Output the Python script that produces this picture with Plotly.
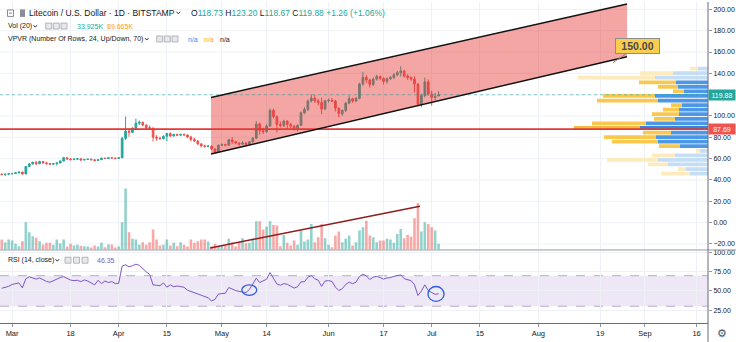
import plotly.graph_objects as go
import pandas as pd

# ---------------- data ----------------
dates = pd.date_range("2019-02-26", "2019-07-03", freq="D")

opens = [45.5, 45.0, 45.3,
         45.8, 46.0, 46.7, 47.4, 45.6, 52.6, 55.0, 56.5, 55.2, 57.3, 56.0, 55.4, 54.8, 55.3, 55.9, 57.8,
         60.8, 59.6, 59.1, 59.5, 59.9, 58.7, 59.2, 59.5, 58.9, 58.2, 59.0, 60.4, 60.1, 60.8, 60.5,
         60.2, 60.8, 79.0, 85.8, 84.6, 88.5, 93.2, 94.0, 91.5, 89.0, 88.6, 80.0, 79.2, 78.7, 81.0,
         83.5, 81.2, 82.6, 82.0, 82.7, 82.2, 80.3, 78.0, 76.6, 73.8, 72.0, 71.5, 71.8, 69.0, 66.3,
         72.6, 73.2, 72.6, 77.6, 76.0, 74.6, 73.6, 74.6, 73.6, 75.8, 79.2, 92.5, 86.2, 85.2, 90.6,
         105.2, 99.4, 92.0, 91.0, 95.2, 92.0, 90.4, 88.4, 91.2, 103.0, 106.2, 114.0, 116.8, 114.2, 112.6, 106.6,
         114.2, 114.8, 114.0, 107.2, 102.2, 105.2, 112.0, 116.2, 114.0, 116.6, 130.0, 136.2, 133.8, 129.6, 134.6,
         137.0, 135.2, 132.4, 135.0, 136.2, 138.6, 140.6, 142.2, 137.6, 136.0, 134.6, 130.0, 111.0, 119.2, 132.0,
         120.6, 117.4, 118.73]
highs = [46.0, 46.2, 46.5,
         46.7, 47.0, 47.8, 47.8, 53.2, 55.8, 57.2, 57.8, 58.0, 57.6, 57.0, 56.0, 55.9, 56.8, 58.3, 61.6,
         61.2, 60.6, 60.1, 60.4, 60.3, 59.8, 60.0, 59.9, 59.5, 59.3, 61.0, 60.8, 61.3, 61.5, 60.9,
         61.2, 80.5, 99.5, 88.0, 89.5, 97.6, 95.8, 94.8, 92.0, 91.2, 89.2, 82.0, 80.5, 81.8, 84.2,
         84.5, 83.4, 83.5, 83.3, 83.5, 82.6, 81.5, 79.5, 77.2, 74.5, 73.0, 72.6, 72.0, 69.4, 73.2,
         74.2, 74.0, 78.6, 80.2, 76.6, 75.2, 76.2, 75.6, 76.4, 80.2, 95.0, 94.0, 89.0, 92.2, 107.0,
         106.8, 100.5, 95.0, 96.4, 96.0, 93.6, 91.6, 92.2, 104.2, 108.2, 115.4, 120.4, 119.8, 116.2, 117.2, 115.2,
         116.4, 116.8, 115.2, 108.2, 106.2, 113.2, 119.2, 117.2, 117.6, 131.2, 141.4, 138.2, 135.0, 136.2, 138.6,
         138.0, 136.2, 136.2, 137.4, 140.2, 142.2, 146.6, 143.2, 139.2, 137.2, 137.2, 131.0, 121.0, 136.0, 134.2,
         123.6, 121.6, 123.20]
lows = [44.5, 43.8, 44.9,
        45.3, 45.6, 46.2, 45.0, 45.4, 52.0, 54.5, 54.0, 54.8, 55.2, 54.3, 53.8, 54.0, 53.5, 55.5, 57.4,
        59.0, 58.2, 58.5, 58.8, 58.0, 58.3, 58.8, 58.3, 57.3, 57.8, 58.8, 59.6, 59.8, 60.0, 59.9,
        59.8, 60.6, 77.5, 80.5, 84.0, 87.5, 91.5, 90.2, 87.3, 86.8, 76.0, 76.8, 77.8, 78.0, 76.2,
        80.5, 80.8, 81.2, 81.0, 81.5, 79.5, 76.0, 75.5, 72.8, 70.5, 70.2, 70.6, 68.2, 64.8, 65.8,
        71.8, 71.6, 72.2, 73.8, 73.6, 72.0, 73.0, 72.6, 73.2, 75.2, 78.4, 82.5, 83.0, 84.2, 90.0,
        97.8, 84.5, 89.2, 89.6, 88.0, 88.8, 86.4, 85.6, 90.6, 101.6, 104.6, 112.6, 112.2, 110.0, 101.6, 105.6,
        112.6, 113.0, 104.2, 98.8, 100.2, 103.6, 111.0, 112.4, 113.0, 115.6, 128.4, 131.0, 126.6, 128.0, 133.2,
        133.4, 129.4, 130.2, 133.6, 134.6, 137.2, 137.0, 136.0, 134.0, 133.0, 122.0, 109.0, 108.2, 117.4, 119.0,
        109.6, 114.6, 118.67]
closes = [45.0, 45.3, 45.8,
          46.0, 46.7, 47.4, 45.6, 52.6, 55.0, 56.5, 55.2, 57.3, 56.0, 55.4, 54.8, 55.3, 55.9, 57.8, 60.8,
          59.6, 59.1, 59.5, 59.9, 58.7, 59.2, 59.5, 58.9, 58.2, 59.0, 60.4, 60.1, 60.8, 60.5, 60.2,
          60.8, 79.0, 85.8, 84.6, 88.5, 93.2, 94.0, 91.5, 89.0, 88.6, 80.0, 79.2, 78.7, 81.0, 83.5,
          81.2, 82.6, 82.0, 82.7, 82.2, 80.3, 78.0, 76.6, 73.8, 72.0, 71.5, 71.8, 69.0, 66.3, 72.6,
          73.2, 72.6, 77.6, 76.0, 74.6, 73.6, 74.6, 73.6, 75.8, 79.2, 92.5, 86.2, 85.2, 90.6, 105.2,
          99.4, 92.0, 91.0, 95.2, 92.0, 90.4, 88.4, 91.2, 103.0, 106.2, 114.0, 116.8, 114.2, 112.6, 106.6, 114.2,
          114.8, 114.0, 107.2, 102.2, 105.2, 112.0, 116.2, 114.0, 116.6, 130.0, 136.2, 133.8, 129.6, 134.6, 137.0,
          135.2, 132.4, 135.0, 136.2, 138.6, 140.6, 142.2, 137.6, 136.0, 134.6, 130.0, 111.0, 119.2, 132.0, 120.6,
          117.4, 118.62, 119.88]

volume_k = [60, 44, 60,
            54, 34, 20, 50, 164, 104, 80, 70, 50, 30, 40, 40, 28, 60, 36, 60, 18, 34, 24, 28, 22, 20, 18, 12, 24, 18, 40, 14, 30, 30, 12,
            18, 164, 368, 104, 64, 60, 28, 44, 28, 44, 120, 60, 24, 28, 60, 24, 40, 20, 44, 28, 18, 60, 40, 50, 60, 60, 48, 18, 34, 18,
            24, 21, 64, 44, 18, 44, 68, 38, 40, 64, 170, 170, 120, 138, 170, 148, 144, 20, 88, 40, 24, 54, 28, 114, 48, 60, 154, 44, 74, 154, 68,
            28, 14, 84, 108, 44, 64, 84, 24, 44, 114, 134, 174, 84, 74, 44, 54, 54, 64, 60, 40, 94, 124, 68, 88, 78, 188, 280, 108, 164, 154,
            134, 114, 33.925]

rsi = [53.5, 54.5, 56.0,
       58.5, 60.0, 60.5, 54.0, 66.0, 68.5, 67.5, 65.5, 67.0, 64.5, 62.5, 61.3, 63.5, 65.0, 67.5, 68.7, 66.5, 64.2, 63.5, 64.0, 62.2, 64.4, 63.0, 60.0, 57.9, 64.0, 59.6, 63.0, 61.0, 62.2, 59.6,
       60.0, 82.5, 84.3, 81.6, 83.0, 85.0, 83.5, 79.0, 75.0, 71.5, 57.9, 57.5, 56.8, 60.5, 55.0, 57.9, 55.5, 56.5, 55.3, 54.8, 51.0, 49.0, 47.5, 46.0, 44.4, 42.5, 41.0, 37.0, 39.0, 46.0,
       46.6, 47.0, 54.5, 52.3, 50.5, 49.5, 48.5, 47.9, 52.0, 60.0, 66.6, 61.0, 63.5, 65.3, 74.1, 67.0, 59.0, 57.5, 59.6, 58.7, 56.0, 53.8, 55.5, 62.0, 62.0, 68.0, 70.0, 66.0, 64.0, 56.0, 63.0,
       63.5, 62.5, 55.0, 50.5, 53.0, 58.5, 61.5, 59.5, 61.5, 69.0, 72.0, 69.5, 65.0, 68.0, 69.0, 67.5, 65.5, 67.0, 67.5, 69.0, 70.0, 71.0, 66.0, 64.5, 63.5, 58.0, 44.0, 50.0, 58.0, 50.5,
       48.0, 45.5, 46.35]

# VPVR rows (bottom -> top): up / down volume per price row (thousands)
vpvr_up_k = [450, 550, 1000, 1250, 825, 200, 700, 1250, 1300, 925, 1700, 1550, 825, 725, 725, 650, 1250, 1325, 600, 750, 800, 1325, 875, 250]
vpvr_down_k = [725, 200, 500, 1275, 575, 100, 525, 1150, 1300, 700, 1650, 1350, 525, 675, 400, 275, 1525, 1300, 275, 500, 925, 1925, 825, 200]
vpvr_rows = 24
vpvr_value_area = (6, 20)   # rows inside the 70% value area
vpvr_poc_row = 10

last_close = 119.88
level_line = 87.69
target_price = 150.00

price_ticks = [-20, 0, 20, 40, 60, 80, 100, 140, 160, 180, 200]   # 120 hidden under the last-price label
price_grid = list(range(-20, 201, 20))
tick_dates = ["2019-03-01", "2019-03-18", "2019-04-01", "2019-04-15", "2019-05-01", "2019-05-14", "2019-06-01",
              "2019-06-17", "2019-07-01", "2019-07-15", "2019-08-01", "2019-08-19", "2019-09-01", "2019-09-16"]
tick_text = ["Mar", "18", "Apr", "15", "May", "14", "Jun", "17", "Jul", "15", "Aug", "19", "Sep", "16"]

# drawings (date, value)
channel_t0, channel_t1 = "2019-04-27 20:00", "2019-08-26 19:00"
channel_low = (64.3, 155.6)
channel_high = (117.4, 205.0)
vol_trend = (("2019-04-27 14:00", 9), ("2019-06-27 14:00", 261))
rsi_marks = [(("2019-05-06 19:00", 44.2), ("2019-05-11 03:00", 58.0)),
             (("2019-06-29 22:00", 36.5), ("2019-07-04 14:00", 55.8))]
target_date = "2019-08-22 17:00"

# ---------------- geometry helpers ----------------
W, H = 736, 342
ML, MR, MT, MB = 0, 28, 0, 19
PW, PH = W - ML - MR, H - MT - MB


def fx(x):
    return (x - ML) / PW


def fy(y):
    return 1 - (y - MT) / PH


UP, DN = "#26a69a", "#ef5350"
FONT = "Liberation Sans, Arial, sans-serif"

fig = go.Figure()

# VPVR
lo, hi = min(lows), max(highs)
row_h = (hi - lo) / vpvr_rows
row_mid = [lo + row_h * (i + 0.5) for i in range(vpvr_rows)]
up_cols, dn_cols = [], []
for i in range(vpvr_rows):
    if i == vpvr_poc_row:
        up_cols.append("#3584dc"); dn_cols.append("#f6b940")
    elif vpvr_value_area[0] <= i <= vpvr_value_area[1]:
        up_cols.append("#4c98e6"); dn_cols.append("#f8c94e")
    else:
        up_cols.append("#c5ddf5"); dn_cols.append("#fdebbf")
fig.add_trace(go.Bar(y=row_mid, x=vpvr_up_k, orientation="h", xaxis="x2", yaxis="y",
                     marker=dict(color=up_cols, line=dict(width=0)), width=row_h * 0.82, hoverinfo="skip"))
fig.add_trace(go.Bar(y=row_mid, x=vpvr_down_k, base=vpvr_up_k, orientation="h", xaxis="x2", yaxis="y",
                     marker=dict(color=dn_cols, line=dict(width=0)), width=row_h * 0.82, hoverinfo="skip"))

# candles
fig.add_trace(go.Candlestick(x=dates, open=opens, high=highs, low=lows, close=closes,
                             increasing=dict(line=dict(color=UP, width=1), fillcolor=UP),
                             decreasing=dict(line=dict(color=DN, width=1), fillcolor=DN),
                             whiskerwidth=0, xaxis="x", yaxis="y", hoverinfo="skip"))

# channel fill
fig.add_trace(go.Scatter(x=[channel_t0, channel_t1, channel_t1, channel_t0, channel_t0],
                         y=[channel_low[0], channel_low[1], channel_high[1], channel_high[0], channel_low[0]],
                         mode="lines", line=dict(width=0), fill="toself",
                         fillcolor="rgba(229,57,53,0.45)", xaxis="x", yaxis="y", hoverinfo="skip"))

# volume
vol_cols = ["rgba(38,166,154,0.5)" if c >= o else "rgba(239,83,80,0.5)" for o, c in zip(opens, closes)]
fig.add_trace(go.Bar(x=dates, y=volume_k, marker=dict(color=vol_cols, line=dict(width=0)),
                     width=0.75 * 86400000, xaxis="x", yaxis="y2", hoverinfo="skip"))

# RSI
fig.add_trace(go.Scatter(x=dates, y=rsi, mode="lines", line=dict(color="#7e57c2", width=1),
                         xaxis="x", yaxis="y3", hoverinfo="skip"))

shapes = []
# horizontal price grid (all levels, including the one under the label)
for gv in price_grid:
    shapes.append(dict(type="line", xref="paper", yref="y", x0=0, x1=1, y0=gv, y1=gv,
                       line=dict(color="#eef1f6", width=1), layer="below"))
# RSI band
shapes.append(dict(type="rect", xref="paper", yref="y3", x0=0, x1=1, y0=30, y1=70,
                   fillcolor="rgba(126,87,194,0.14)", line=dict(width=0), layer="below"))
for lvl in (70, 30):
    shapes.append(dict(type="line", xref="paper", yref="y3", x0=0, x1=1, y0=lvl, y1=lvl,
                       line=dict(color="#b8acd0", width=1, dash="dash"), layer="below"))
# price line & level line
shapes.append(dict(type="line", xref="paper", yref="y", x0=0, x1=1, y0=last_close, y1=last_close,
                   line=dict(color="rgba(38,166,154,0.55)", width=1, dash="dot"), layer="above"))
shapes.append(dict(type="line", xref="paper", yref="y", x0=0, x1=1, y0=level_line, y1=level_line,
                   line=dict(color="#e53935", width=1.8), layer="above"))
# channel borders
shapes.append(dict(type="line", xref="x", yref="y", x0=channel_t0, x1=channel_t1, y0=channel_low[0], y1=channel_low[1],
                   line=dict(color="#111111", width=1.5), layer="above"))
shapes.append(dict(type="line", xref="x", yref="y", x0=channel_t0, x1=channel_t1, y0=channel_high[0], y1=channel_high[1],
                   line=dict(color="#111111", width=1.5), layer="above"))
# volume trend line
shapes.append(dict(type="line", xref="x", yref="y2", x0=vol_trend[0][0], y0=vol_trend[0][1],
                   x1=vol_trend[1][0], y1=vol_trend[1][1], line=dict(color="#8e1d1d", width=1.5), layer="above"))
# RSI ellipses
for (a, b) in rsi_marks:
    shapes.append(dict(type="circle", xref="x", yref="y3", x0=a[0], y0=a[1], x1=b[0], y1=b[1],
                       line=dict(color="#2c5de5", width=1.3), layer="above"))
# pane separators and right axis line
shapes.append(dict(type="line", xref="paper", yref="paper", x0=0, x1=W / PW, y0=fy(249.5), y1=fy(249.5),
                   line=dict(color="#9598a1", width=1)))
shapes.append(dict(type="line", xref="paper", yref="paper", x0=1, x1=1, y0=fy(H), y1=1,
                   line=dict(color="#6a6d78", width=1)))


# header icons
def icon_box(x0, y0, s=6):
    shapes.append(dict(type="rect", xref="paper", yref="paper", x0=fx(x0), x1=fx(x0 + s), y0=fy(y0 + s), y1=fy(y0),
                       fillcolor="#e6e8ec", line=dict(color="#a3a6af", width=0.8)))


for x0 in (45.7, 53.3, 61.0):
    icon_box(x0, 21.2)
for x0 in (156.7, 164.3, 172.0):
    icon_box(x0, 34.2)
for x0 in (65.0, 73.5, 82.0):
    icon_box(x0, 256.8)
# collapse box + logo
shapes.append(dict(type="rect", xref="paper", yref="paper", x0=fx(7.5), x1=fx(13.5), y0=fy(14.5), y1=fy(8.0),
                   fillcolor="white", line=dict(color="#6a6d78", width=0.8)))
shapes.append(dict(type="line", xref="paper", yref="paper", x0=fx(9), x1=fx(12), y0=fy(11.2), y1=fy(11.2),
                   line=dict(color="#6a6d78", width=0.8)))
shapes.append(dict(type="rect", xref="paper", yref="paper", x0=fx(20), x1=fx(25), y0=fy(15), y1=fy(7.5),
                   fillcolor="#8a8d96", line=dict(width=0)))


def chevron(x, y):
    shapes.append(dict(type="path", xref="paper", yref="paper",
                       path=f"M {fx(x)},{fy(y - 1.2)} L {fx(x + 1.8)},{fy(y + 0.8)} L {fx(x + 3.6)},{fy(y - 1.2)}",
                       line=dict(color="#131722", width=0.9)))


chevron(176.5, 11)
chevron(33.5, 24.5)
chevron(145, 37.5)
chevron(55.5, 260)

ann = []


def txt(x, y, s, size=7.0, color="#131722", **kw):
    ann.append(dict(xref="paper", yref="paper", x=fx(x), y=fy(y), text=s, showarrow=False,
                    xanchor="left", yanchor="middle", font=dict(size=size, color=color, family=FONT), **kw))


def g(v):
    return f"<span style='color:{UP}'>{v}</span>"


txt(27, 11, "Litecoin / U.S. Dollar · 1D · BITSTAMP", size=8.5)
txt(189, 11, f"O{g('118.73')} H{g('123.20')} L{g('118.67')} C{g('119.88')} {g('+1.26 (+1.06%)')}", size=8.5)
txt(6, 24.5, "Vol (20)")
txt(75, 24.5, "33.925K", color=UP)
txt(104.5, 24.5, "89.665K", color="#ff9800")
txt(6, 37.5, "VPVR (Number Of Rows, 24, Up/Down, 70)")
txt(186, 37.5, "n/a", color="#2196f3")
txt(202, 37.5, "n/a", color="#ffa726")
txt(218, 37.5, "n/a", color="#131722")
txt(6, 260, "RSI (14, close)")
txt(95, 260, "46.35", color="#7e57c2")
ann.append(dict(xref="paper", yref="paper", x=fx(722), y=fy(333), text="⚙", showarrow=False,
                font=dict(size=11, color="#50535e"), xanchor="center", yanchor="middle"))

# axis value labels
for val, bg in ((last_close, "#26a69a"), (level_line, "#ef5350")):
    ann.append(dict(xref="paper", yref="y", x=1, y=val, text=f"{val:.2f}", showarrow=False,
                    xanchor="left", yanchor="middle", bgcolor=bg, width=26, height=10, borderpad=0,
                    font=dict(size=7, color="white", family=FONT)))

# target callout
ann.append(dict(xref="x", yref="y", x=target_date, y=target_price, text="<b>150.00</b>", showarrow=True,
                arrowhead=0, arrowwidth=1, arrowcolor="#8a8a8a", ax=25, ay=-17, bgcolor="#f9cd4f",
                bordercolor="#8d8d8d", borderwidth=1, width=43, height=14, borderpad=0,
                font=dict(size=10.5, color="#4a4a4a", family=FONT)))

vp_range = max(u + d for u, d in zip(vpvr_up_k, vpvr_down_k)) / 0.1893

axis_common = dict(zeroline=False, fixedrange=True)
fig.update_layout(
    width=W, height=H, margin=dict(l=ML, r=MR, t=MT, b=MB),
    paper_bgcolor="white", plot_bgcolor="white", showlegend=False, barmode="overlay",
    font=dict(family=FONT, size=7, color="#131722"),
    xaxis=dict(type="date", range=["2019-02-25 11:43", "2019-09-19 07:55"], anchor="y3",
               tickvals=tick_dates, ticktext=tick_text, tickfont=dict(size=7.5),
               showgrid=True, gridcolor="#eef1f6", gridwidth=1,
               showline=True, linecolor="#6a6d78", ticks="outside", ticklen=3, tickcolor="#9598a1",
               rangeslider=dict(visible=False), **axis_common),
    xaxis2=dict(overlaying="x", range=[vp_range, 0], visible=False, anchor="y", fixedrange=True),
    yaxis=dict(domain=[fy(249), 1], range=[-25.2, 206.9], side="right", anchor="x",
               tickvals=price_ticks, tickformat=".2f", ticks="outside", ticklen=3, showgrid=False,
               tickcolor="#9598a1", tickfont=dict(size=7), **axis_common),
    yaxis2=dict(overlaying="y", range=[0, 249 * 6], visible=False, fixedrange=True),
    yaxis3=dict(domain=[0, fy(250.5)], range=[8.1, 102.3], side="right", anchor="x",
                tickvals=[25, 50, 75, 100], tickformat=".2f", ticks="outside", ticklen=3,
                showgrid=True, gridcolor="#eef1f6", gridwidth=1,
                tickcolor="#9598a1", tickfont=dict(size=7), **axis_common),
    shapes=shapes, annotations=ann,
)

fig.write_html("out.html")
